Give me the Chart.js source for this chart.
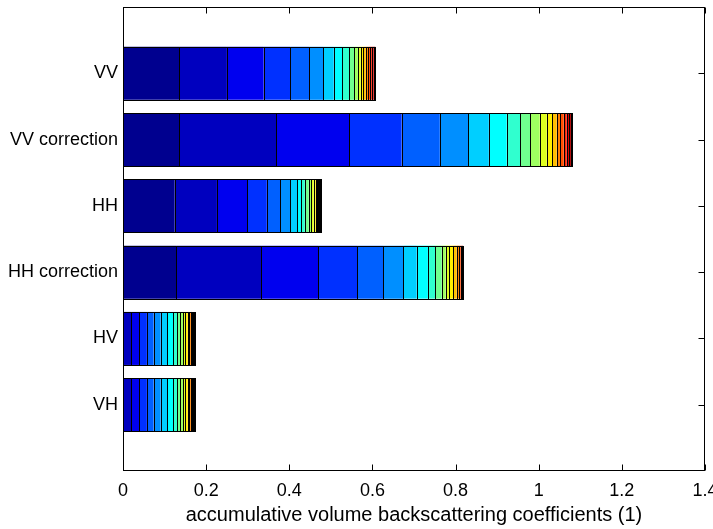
<!DOCTYPE html>
<html><head><meta charset="utf-8">
<script src="https://cdn.jsdelivr.net/npm/chart.js@4"></script>
<style>html,body{margin:0;padding:0;background:#fff}#wrap{width:713px;height:529px;position:relative}</style>
</head><body><div id="wrap"><canvas id="c"></canvas></div>
<script>
const categories = ['VV', 'VV correction', 'HH', 'HH correction', 'HV', 'VH'];
const positions = [6, 5, 4, 3, 2, 1];
const xTickValues = [0, 0.2, 0.4, 0.6, 0.8, 1, 1.2, 1.4];
const xTickLabels = ['0', '0.2', '0.4', '0.6', '0.8', '1', '1.2', '1.4'];
const xAxisTitle = 'accumulative volume backscattering coefficients (1)';

// 20 stacked components per category (left to right)
const vv  = [0.135, 0.115, 0.088, 0.064, 0.046, 0.034, 0.025, 0.020, 0.017, 0.012, 0.009, 0.007, 0.0065, 0.0055, 0.0055, 0.005, 0.004, 0.0045, 0.0025, 0.0015];
const vvCorrection = [0.135, 0.234, 0.175, 0.126, 0.092, 0.068, 0.050, 0.043, 0.033, 0.023, 0.023, 0.017, 0.013, 0.011, 0.009, 0.008, 0.007, 0.006, 0.0045, 0.0035];
const hh  = [0.124, 0.102, 0.073, 0.047, 0.032, 0.024, 0.017, 0.0096, 0.0087, 0.0096, 0.0065, 0.005, 0.005, 0.003, 0.0025, 0.002, 0.0015, 0.0012, 0.001, 0.0008];
const hhCorrection = [0.128, 0.204, 0.138, 0.094, 0.0625, 0.048, 0.032, 0.027, 0.017, 0.016, 0.0096, 0.0087, 0.0096, 0.008, 0.007, 0.0025, 0.002, 0.0018, 0.0014, 0.001];
const hv  = [0.0005, 0.019, 0.019, 0.019, 0.016, 0.017, 0.016, 0.014, 0.0096, 0.008, 0.0064, 0.0056, 0.0056, 0.004, 0.0035, 0.003, 0.0025, 0.002, 0.002, 0.0015];
const vh  = [0.0005, 0.019, 0.019, 0.019, 0.016, 0.017, 0.016, 0.014, 0.0096, 0.008, 0.0064, 0.0056, 0.0056, 0.004, 0.0035, 0.003, 0.0025, 0.002, 0.002, 0.0015];

const seriesByCategory = [vv, vvCorrection, hh, hhCorrection, hv, vh];
const nSeries = vv.length;

// MATLAB jet(64) colormap, scaled mapping of series index
function jet(k) { // k = 1..64
  const u = j => (j >= 1 && j <= 16) ? j / 16 : (j >= 17 && j <= 31) ? 1 : (j >= 32 && j <= 47) ? (48 - j) / 16 : 0;
  const r = u(k - 24), g = u(k - 8), b = u(k + 8);
  return `rgb(${Math.round(r * 255)},${Math.round(g * 255)},${Math.round(b * 255)})`;
}
function seriesColor(i) {
  const k = Math.min(64, Math.floor(i / (nSeries - 1) * 64) + 1);
  return jet(k);
}

const datasets = [];
for (let i = 0; i < nSeries; i++) {
  datasets.push({
    label: 'component ' + (i + 1),
    data: categories.map((c, j) => ({ x: seriesByCategory[j][i], y: positions[j] })),
    backgroundColor: seriesColor(i),
    borderWidth: 0,
    categoryPercentage: 1,
    barPercentage: 0.8
  });
}

const FONT = 'Liberation Sans, Arial, Helvetica, sans-serif';

const frame = {
  id: 'frame',
  beforeDatasetsDraw(chart) {
    const { ctx, chartArea: a, scales: { x, y } } = chart;
    ctx.save();
    ctx.strokeStyle = '#000'; ctx.lineWidth = 1;
    const L = Math.round(a.left) + 0.5, R = Math.round(a.right) - 0.5, T = Math.round(a.top) + 0.5, B = Math.round(a.bottom) - 0.5;
    ctx.beginPath();
    xTickValues.forEach(v => {
      const px = Math.round(x.getPixelForValue(v)) + 0.5;
      ctx.moveTo(px, B); ctx.lineTo(px, B - 6);
      ctx.moveTo(px, T); ctx.lineTo(px, T + 6);
    });
    positions.forEach(p => {
      const py = Math.round(y.getPixelForValue(p)) + 0.5;
      ctx.moveTo(L, py); ctx.lineTo(L + 6, py);
      ctx.moveTo(R, py); ctx.lineTo(R - 6, py);
    });
    ctx.stroke();
    ctx.restore();
  },
  afterDatasetsDraw(chart) {
    const { ctx, chartArea: a } = chart;
    ctx.save();
    ctx.strokeStyle = '#000'; ctx.lineWidth = 1;
    // crisp 1px black edges around every bar segment (MATLAB style)
    chart.data.datasets.forEach((ds, di) => {
      const meta = chart.getDatasetMeta(di);
      meta.data.forEach(el => {
        const p = el.getProps(['x', 'y', 'base', 'height'], true);
        const x0 = Math.round(Math.min(p.base, p.x)), x1 = Math.round(Math.max(p.base, p.x));
        const y0 = Math.round(p.y - p.height / 2), y1 = Math.round(p.y + p.height / 2);
        ctx.strokeRect(x0 + 0.5, y0 + 0.5, Math.max(0, x1 - x0), y1 - y0);
      });
    });
    const L = Math.round(a.left) + 0.5, R = Math.round(a.right) - 0.5, T = Math.round(a.top) + 0.5, B = Math.round(a.bottom) - 0.5;
    ctx.strokeRect(L, T, R - L, B - T);
    ctx.restore();
  }
};

new Chart(document.getElementById('c'), {
  type: 'bar',
  data: { datasets },
  plugins: [frame],
  options: {
    indexAxis: 'y',
    responsive: true,
    maintainAspectRatio: false,
    animation: false,
    layout: { padding: { top: 7, right: 8, left: 0, bottom: 0 } },
    plugins: { legend: { display: false }, tooltip: { enabled: false } },
    scales: {
      x: {
        type: 'linear', stacked: true, min: 0, max: 1.4,
        grid: { display: false, drawTicks: false },
        border: { display: false },
        afterBuildTicks: s => { s.ticks = xTickValues.map(v => ({ value: v })); },
        afterFit: s => { s.height = 529 - 471; s.paddingLeft = 0; s.paddingRight = 0; },
        ticks: {
          color: '#000', padding: 9, maxRotation: 0, autoSkip: false,
          font: { family: FONT, size: 18 },
          callback: (v, i) => xTickLabels[i]
        },
        title: { display: true, text: xAxisTitle, color: '#000', font: { family: FONT, size: 20 }, padding: { top: 0, bottom: 2 } }
      },
      y: {
        type: 'linear', stacked: true, min: 0, max: 7, offset: false,
        grid: { display: false, drawTicks: false, offset: false },
        border: { display: false },
        afterBuildTicks: s => { s.ticks = positions.map(v => ({ value: v })); },
        afterFit: s => { s.width = 123; s.paddingTop = 0; s.paddingBottom = 0; },
        ticks: {
          color: '#000', padding: 5, autoSkip: false,
          font: { family: FONT, size: 18 },
          callback: v => categories[positions.indexOf(v)]
        }
      }
    }
  }
});
</script>
</body></html>
